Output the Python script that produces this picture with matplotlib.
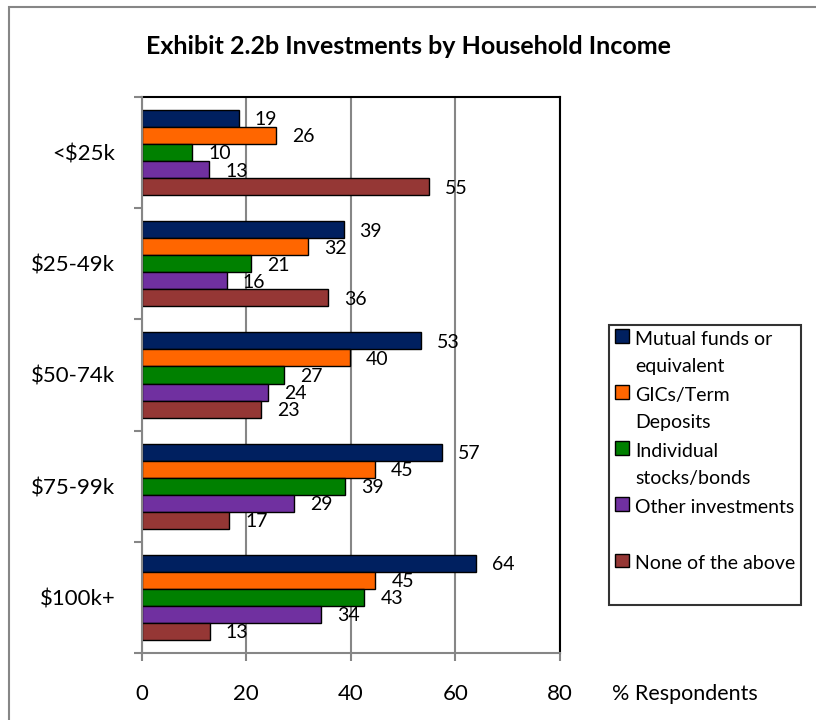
import numpy as np
import matplotlib
matplotlib.use("Agg")
from matplotlib import pyplot as plt
from matplotlib.patches import Rectangle
from matplotlib.legend_handler import HandlerPatch

plt.rcParams['font.family'] = ['Lato', 'DejaVu Sans']

# data
categories = ['<$25k', '$25-49k', '$50-74k', '$75-99k', '$100k+']
series_names = ['Mutual funds or\nequivalent', 'GICs/Term\nDeposits',
                'Individual\nstocks/bonds', 'Other investments\n ',
                'None of the above\n ']
mutual = [18.6, 38.6, 53.4, 57.4, 64.0]
gics = [25.7, 31.9, 39.8, 44.6, 44.7]
stocks = [9.7, 20.9, 27.2, 38.9, 42.6]
other = [12.9, 16.3, 24.2, 29.1, 34.3]
none_above = [55.0, 35.6, 22.8, 16.7, 13.0]
colors = ['#002060', '#FF6600', '#008000', '#7030A0', '#953735']

series = [mutual, gics, stocks, other, none_above]

fig = plt.figure(figsize=(8.16, 7.2), dpi=100)
ax = fig.add_axes([141.7/816, 67/720, (560-141.7)/816, (653-97)/720])

n = len(series)
bh = 0.153
y = np.arange(len(categories))
handles = []
for k, vals in enumerate(series):
    yy = y - (n-1)/2*bh + k*bh
    b = ax.barh(yy, vals, height=bh, color=colors[k], edgecolor='black',
                linewidth=1.0, zorder=3)
    handles.append(b[0])
    for yv, v in zip(yy, vals):
        ax.annotate(f"{v:.0f}", (v, yv), xytext=(11.5, -1), textcoords='offset points',
                    va='center', ha='left', fontsize=14, zorder=2)

ax.set_xlim(0, 80)
ax.set_ylim(len(categories)-0.5, -0.5)
ax.set_xticks([0, 20, 40, 60, 80])
ax.set_yticks(y)
ax.set_yticklabels(categories)
ax.set_yticks(np.arange(-0.5, len(categories)), minor=True)
ax.xaxis.grid(True, color='#868686', linewidth=1.5, zorder=0)
ax.set_axisbelow(True)

ax.tick_params(axis='x', direction='out', length=6, width=1.5, color='#868686',
               labelsize=16, pad=16)
ax.tick_params(axis='y', which='major', length=0, labelsize=16, pad=19)
ax.tick_params(axis='y', which='minor', direction='out', length=6, width=1.5,
               color='#868686')
for s in ['left', 'bottom']:
    ax.spines[s].set_color('#868686')
    ax.spines[s].set_linewidth(1.5)
for s in ['top', 'right']:
    ax.spines[s].set_color('black')
    ax.spines[s].set_linewidth(1.5)
ax.spines['left'].set_zorder(4)
ax.spines['bottom'].set_zorder(4)


def top_square(legend, orig_handle, xdescent, ydescent, width, height, fontsize):
    s = 10
    return Rectangle((-xdescent + (width - s)/2, -ydescent + height/2 - s/2 + 12), s, s)


leg = fig.legend(handles, series_names, loc='upper left',
                 bbox_to_anchor=(609/816, 1 - 325/720), frameon=True, fancybox=False,
                 edgecolor='black', fontsize=14, handlelength=0.75, handletextpad=0.3,
                 labelspacing=0.63, borderpad=0.3, borderaxespad=0,
                 handler_map={Rectangle: HandlerPatch(patch_func=top_square)})
leg.get_frame().set_linewidth(1.5)
for t in leg.get_texts():
    t.set_linespacing(1.7)

fig.text(408/816, 1 - 47/720, 'Exhibit 2.2b Investments by Household Income',
         ha='center', va='center', fontsize=18, fontweight='bold')
fig.text(612/816, 1 - 694/720, '% Respondents', ha='left', va='center', fontsize=15.5)

fig.patches.append(Rectangle((8.5/816, -0.1), 1.2, 1.1 - 6.5/720,
                             transform=fig.transFigure, fill=False,
                             edgecolor='#868686', linewidth=1.5))

fig.savefig('out.png', dpi=100)
